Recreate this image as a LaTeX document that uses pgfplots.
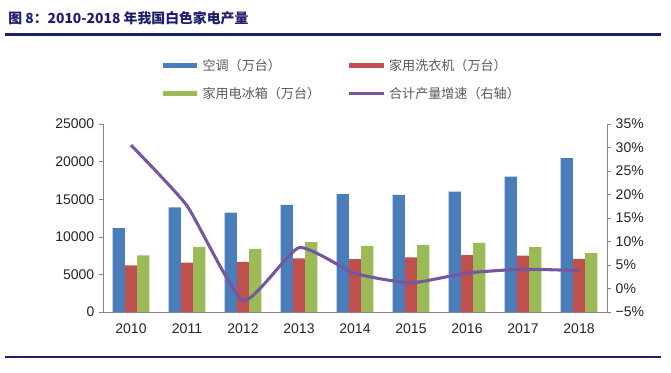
\documentclass[border=0pt]{standalone}
\usepackage{fontspec}
\setmainfont{Liberation Sans}
\newfontfamily\cjk{Noto Sans CJK SC}
\usepackage{pgfplots}
\usepackage{pgfplotstable}
\pgfplotsset{compat=1.18}

\definecolor{cBlue}{HTML}{4A7EBB}
\definecolor{cRed}{HTML}{C0504D}
\definecolor{cGreen}{HTML}{9BBB59}
\definecolor{cPurple}{HTML}{7358A0}
\definecolor{cNavy}{HTML}{1F1D6E}
\definecolor{cAxis}{HTML}{868686}
\definecolor{cText}{HTML}{262626}
\definecolor{cLeg}{HTML}{595959}

\pgfplotstableread{
x ac wm fr
0 11150 6190 7520
1 13900 6550 8670
2 13200 6680 8400
3 14250 7120 9290
4 15670 7040 8800
5 15570 7250 8930
6 16010 7570 9200
7 18000 7480 8630
8 20450 7060 7830
}\prod

\pgfplotstableread{
x g
0 30.5
1 17.6
2 -2.6
3 8.7
4 3.2
5 1.2
6 3.3
7 4.1
8 3.8
}\growth

\pgfplotsset{
  common/.style={
    scale only axis, width=378pt, height=141pt,
    at={(77.25pt,45.75pt)}, anchor=south west,
    xmin=-0.5, xmax=8.5,
    axis line style={cAxis},
    tick style={cAxis},
    tick align=outside,
    major tick length=3pt,
    minor tick length=3pt,
    /pgf/number format/assume math mode=true,
    tick label style={font=\fontsize{10.5pt}{12pt}\selectfont, text=cText},
  }
}

\begin{document}
\begin{tikzpicture}[x=0.75pt,y=0.75pt]
\useasboundingbox (0,0) rectangle (671,373);
\fill[white] (0,0) rectangle (671,373);
\node[anchor=base west, font=\cjk\bfseries\fontsize{10.4pt}{12pt}\selectfont, text=cNavy, inner sep=0] at (8,349) {图 8：2010-2018 年我国白色家电产量};
\draw[cNavy, line width=2.4pt] (5,338.5) -- (661,338.5);
\draw[cNavy, line width=1.5pt] (5,16) -- (661,16);

\begin{axis}[common,
  ymin=0, ymax=25000,
  axis x line*=bottom, axis y line*=left,
  ytick={0,5000,...,25000},
  scaled y ticks=false,
  yticklabel style={/pgf/number format/1000 sep={}},
  xtick={0,...,8},
  xticklabels={2010,2011,2012,2013,2014,2015,2016,2017,2018},
  x tick style={draw=none},
  minor xtick={-0.5,0.5,...,8.5},
  minor x tick style={cAxis},
  xticklabel style={yshift=-2pt},
  legend columns=2,
  legend cell align=left,
  legend image code/.code={\draw[#1] (0pt,0pt) -- (26pt,0pt);},
  legend style={at={(0.113,1.36)}, anchor=north west, draw=none, fill=none,
    font=\cjk\fontsize{9.8pt}{12pt}\selectfont, text=cLeg,
    inner sep=0pt, row sep=7pt,
    /tikz/every even column/.append style={column sep=18pt}},
]
\addplot[ybar, bar width=0.22, bar shift=-0.22, fill=cBlue, draw=none, forget plot] table[x=x,y=ac] {\prod};
\addplot[ybar, bar width=0.22, bar shift=0, fill=cRed, draw=none, forget plot] table[x=x,y=wm] {\prod};
\addplot[ybar, bar width=0.22, bar shift=0.22, fill=cGreen, draw=none, forget plot] table[x=x,y=fr] {\prod};
\addlegendimage{cBlue, line width=3.75pt}
\addlegendentry{空调（万台）}
\addlegendimage{cRed, line width=3.75pt}
\addlegendentry{家用洗衣机（万台）}
\addlegendimage{cGreen, line width=3.75pt}
\addlegendentry{家用电冰箱（万台）}
\addlegendimage{cPurple, line width=2.3pt}
\addlegendentry{合计产量增速（右轴）}
\end{axis}

\begin{axis}[common,
  ymin=-5, ymax=35,
  axis x line=none, axis y line*=right,
  ytick={-5,0,...,35},
  yticklabels={−5\%,0\%,5\%,10\%,15\%,20\%,25\%,30\%,35\%},
]
\addplot[cPurple, line width=2.3pt, smooth, tension=0.3, line join=round] table[x=x,y=g] {\growth};
\end{axis}
\end{tikzpicture}
\end{document}
